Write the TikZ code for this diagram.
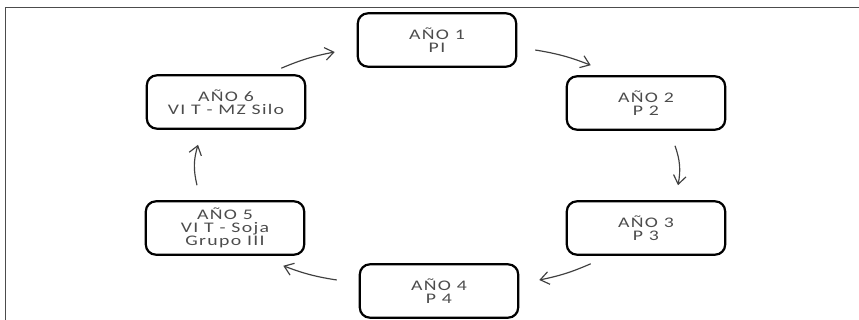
\documentclass[tikz,border=0pt]{standalone}
\usepackage{fontspec}
\setmainfont{Carlito}[FakeStretch=1.35,LetterSpace=9]
\usetikzlibrary{arrows.meta,calc}

\begin{document}
\begin{tikzpicture}[
  x=0.03cm, y=-0.03cm,
  >={Straight Barb[length=2.6mm,width=3.8mm]},
  year/.style={draw=black, line width=1.9pt, rounded corners=3mm, align=center,
    minimum width=4.75cm, minimum height=1.6cm, inner sep=2pt,
    font=\fontsize{12.5}{11}\selectfont, text=black!70},
  cyc/.style={->, draw=black!75, line width=1pt},
  frame/.style={draw=black!70, line width=1.4pt}
]
\useasboundingbox (0,0) rectangle (859,320);

% Frame
\draw[frame] (859,7.5) -- (5.5,7.5) -- (5.5,320);

% Year nodes
\node[year] (y1) at (437,40)  {AÑO 1\\PI};
\node[year] (y2) at (646,103) {AÑO 2\\P 2};
\node[year] (y3) at (646,228) {AÑO 3\\P 3};
\node[year] (y4) at (439,291) {AÑO 4\\P 4};
\node[year] (y5) at (225,228) {AÑO 5\\VI T - Soja\\Grupo III};
\node[year] (y6) at (226,102) {AÑO 6\\VI T - MZ Silo};

% Connections
\draw[cyc] ($(y6.north east)+(-25,-6)$) to[bend left=6]  ($(y1.west)+(-22,12)$);
\draw[cyc] ($(y1.east)+(18,10)$)        to[bend left=6]  ($(y2.north west)+(25,-10)$);
\draw[cyc] ($(y2.south)+(29,15)$)       to[bend left=15] ($(y3.north)+(32,-15)$);
\draw[cyc] ($(y3.south west)+(25,8)$)   to[bend left=6]  ($(y4.east)+(20,-11)$);
\draw[cyc] ($(y4.west)+(-22,-11)$)      to[bend left=6]  ($(y5.south east)+(-22,10)$);
\draw[cyc] ($(y5.north)+(-28,-15)$)     to[bend left=15] ($(y6.south)+(-28,15)$);

\end{tikzpicture}
\end{document}
